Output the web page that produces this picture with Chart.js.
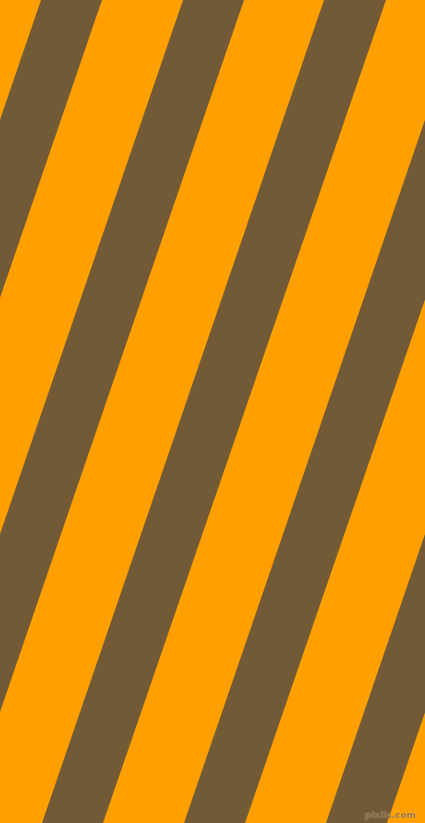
<!DOCTYPE html>
<html>
<head>
<meta charset="utf-8">
<script src="https://cdn.jsdelivr.net/npm/chart.js@4"></script>
<style>
  html, body { margin: 0; padding: 0; background: #ffa000; overflow: hidden; }
  #wrap { position: relative; width: 425px; height: 823px; }
  #stripes { display: block; }
  #mark {
    position: absolute; right: 9px; bottom: 3px;
    font: bold 9px "DejaVu Sans", sans-serif;
    color: rgba(110, 90, 70, 0.75);
    text-shadow: 0 0 1px rgba(255, 220, 150, 0.8);
  }
</style>
</head>
<body>
<div id="wrap">
  <canvas id="stripes" width="425" height="823"></canvas>
  <span id="mark">pixlis.com</span>
</div>
<script>
// Stripe edges (px in image space)
const WIDTH = 425;
const HEIGHT = 823;
const leftAtTop = [-101, 41, 183, 324, 466, 608];
const rightAtTop = [-40, 102, 244, 386, 528, 670];
const leftAtBottom = [-383, -241, -99, 42, 184, 326];
const rightAtBottom = [-322, -180, -38, 103, 245, 387];

const ORANGE = '#ffa000';
const BROWN = '#725a37';

function buildDatasets() {
    // Each brown stripe is a closed 4-point shape
    return leftAtTop.map((l, i) => ({
        data: [
            { x: l, y: 0 },
            { x: rightAtTop[i], y: 0 },
            { x: rightAtBottom[i], y: HEIGHT },
            { x: leftAtBottom[i], y: HEIGHT }
        ],
        showLine: true,
        fill: 'shape',
        backgroundColor: BROWN,
        borderWidth: 0,
        pointRadius: 0,
        tension: 0
    }));
}

const ctx = document.getElementById('stripes').getContext('2d');
new Chart(ctx, {
    type: 'scatter',
    data: { datasets: buildDatasets() },
    options: {
        responsive: false,
        animation: false,
        devicePixelRatio: 1,
        layout: { padding: 0 },
        plugins: {
            legend: { display: false },
            tooltip: { enabled: false }
        },
        scales: {
            x: { type: 'linear', min: 0, max: WIDTH, display: false },
            y: { type: 'linear', min: 0, max: HEIGHT, reverse: true, display: false }
        }
    }
});
</script>
</body>
</html>
